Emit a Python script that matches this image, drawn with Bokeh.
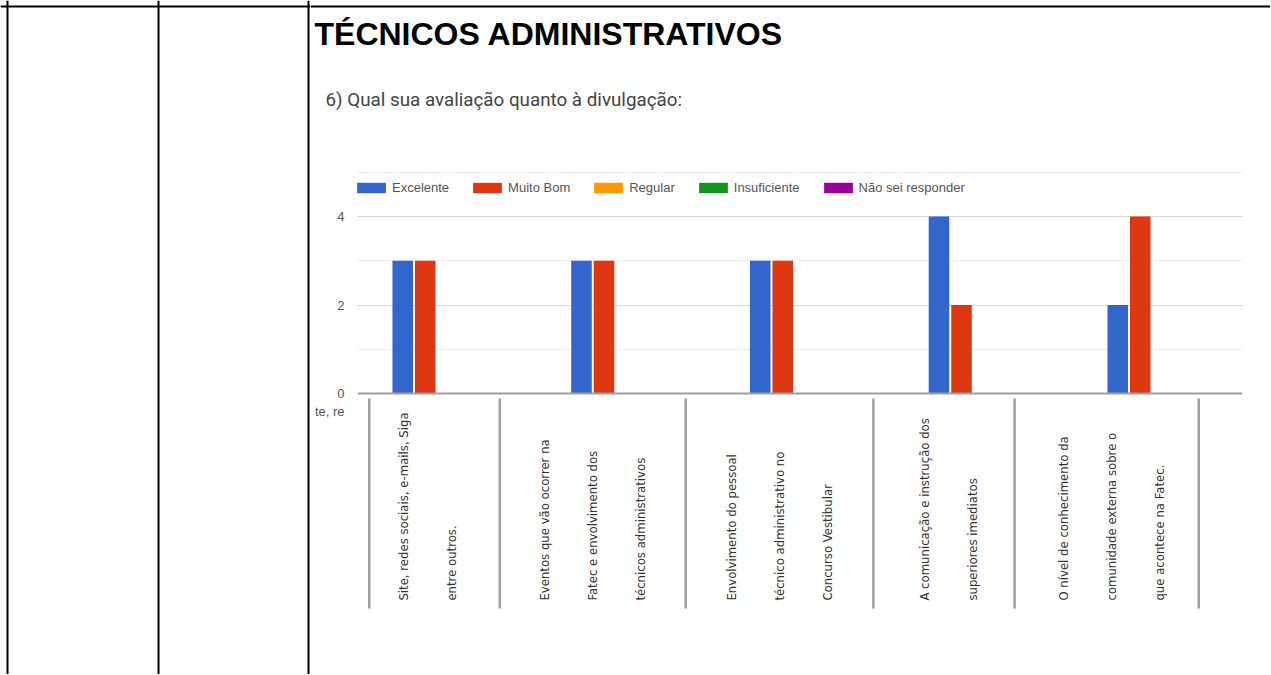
from math import pi
from bokeh.plotting import figure
from bokeh.layouts import row, column
from bokeh.models import (ColumnDataSource, Range1d, FixedTicker, Legend, LegendItem,
                          Label, Span)
from bokeh.transform import dodge
from bokeh.core.properties import value
from bokeh.embed import file_html
from bokeh.resources import INLINE

# ---------------- data ----------------
heading = "TÉCNICOS ADMINISTRATIVOS"
question = "6) Qual sua avaliação quanto à divulgação:"
clipped_label = "te, re"
categories = [
    "Site, redes sociais, e-mails, Siga\nentre outros.",
    "Eventos que vão ocorrer na\nFatec e envolvimento dos\ntécnicos administrativos",
    "Envolvimento do pessoal\ntécnico administrativo no\nConcurso Vestibular",
    "A comunicação e instrução dos\nsuperiores imediatos",
    "O nível de conhecimento da\ncomunidade externa sobre o\nque acontece na Fatec.",
]
series_names = ["Excelente", "Muito Bom", "Regular", "Insuficiente", "Não sei responder"]
excelente = [3, 3, 3, 4, 2]
muito_bom = [3, 3, 3, 2, 4]
regular = [0, 0, 0, 0, 0]
insuficiente = [0, 0, 0, 0, 0]
nao_sei = [0, 0, 0, 0, 0]
y_ticks = [0, 2, 4]
y_minor = [1, 3, 5]

# ---------------- layout / style ----------------
colors = ["#3366cc", "#dc3912", "#ff9900", "#109618", "#990099"]
offsets = [-0.063, 0.063, 0.0, 0.0, 0.0]
bar_w = 0.115
label_nudge = [14, 0, 8, -2, -17]                    # px nudges of rotated labels
separators = [-0.25, 0.48, 1.52, 2.57, 3.36, 4.39]   # label cell dividers
clipped_label_y = -0.41

TOTAL_W, TOTAL_H = 1270, 674
LEFT_W = 310
TOP_H = 168
RIGHT_W = TOTAL_W - LEFT_W
CHART_H = TOTAL_H - TOP_H


def bare(width, height, xr, yr):
    f = figure(width=width, height=height, output_backend="svg", toolbar_location=None,
               x_range=xr, y_range=yr, x_axis_location=None, y_axis_location=None,
               min_border=0, outline_line_color=None)
    f.grid.visible = False
    f.frame_align = False
    return f


# ---- left document-table cells ----
left = bare(LEFT_W, TOTAL_H, Range1d(0, LEFT_W), Range1d(TOTAL_H, 0))
for xloc in [7, 158, 308]:
    left.add_layout(Span(location=xloc, dimension="height", line_color="black", line_width=2))
left.add_layout(Span(location=6, dimension="width", line_color="black", line_width=2))

# ---- heading area ----
top = bare(RIGHT_W, TOP_H, Range1d(LEFT_W, TOTAL_W), Range1d(TOP_H, 0))
top.add_layout(Span(location=6, dimension="width", line_color="black", line_width=2))
top.add_layout(Label(x=314, y=33, text=heading, text_font="Liberation Sans",
                     text_font_style="bold", text_font_size="32px", text_color="black",
                     text_baseline="alphabetic"))
top.add_layout(Label(x=325, y=99, text=question, text_font="Roboto",
                     text_font_size="18.8px", text_color="#444444",
                     text_baseline="alphabetic"))

# ---- chart ----
p = figure(width=RIGHT_W, height=CHART_H, output_backend="svg", toolbar_location=None,
           x_range=Range1d(-0.316, 4.635), y_range=Range1d(-5.582, 5.085),
           min_border_left=47, min_border_right=28, min_border_top=0,
           min_border_bottom=34, outline_line_color=None)
p.frame_align = False

idx = list(range(len(categories)))
src = ColumnDataSource(dict(x=idx, excelente=excelente, muito_bom=muito_bom,
                            regular=regular, insuficiente=insuficiente, nao_sei=nao_sei))
fields = ["excelente", "muito_bom", "regular", "insuficiente", "nao_sei"]
renderers = []
for f, c, o in zip(fields, colors, offsets):
    r = p.vbar(x=dodge("x", o, range=p.x_range), top=f, width=bar_w, bottom=0,
               fill_color=c, line_color=None, source=src)
    renderers.append(r)

p.xaxis.fixed_location = 0
p.xaxis.ticker = FixedTicker(ticks=[])
p.xaxis.axis_line_color = "#9e9e9e"
p.xaxis.axis_line_width = 2
p.xaxis.major_tick_line_color = None
p.xaxis.minor_tick_line_color = None
p.xaxis.major_label_text_font_size = "0px"

p.yaxis.ticker = FixedTicker(ticks=[clipped_label_y] + y_ticks)
p.yaxis.major_label_overrides = {clipped_label_y: clipped_label}
p.yaxis.axis_line_color = None
p.yaxis.major_tick_line_color = None
p.yaxis.minor_tick_line_color = None
p.yaxis.major_tick_in = 0
p.yaxis.major_tick_out = 0
p.yaxis.minor_tick_in = 0
p.yaxis.minor_tick_out = 0
p.yaxis.major_label_standoff = 13
p.yaxis.major_label_text_font = "Liberation Sans"
p.yaxis.major_label_text_font_size = "13px"
p.yaxis.major_label_text_color = "#555555"

p.xgrid.grid_line_color = None
p.ygrid.ticker = FixedTicker(ticks=y_ticks, minor_ticks=y_minor)
p.ygrid.grid_line_color = "#d6d6d6"
p.ygrid.minor_grid_line_color = "#ececec"

legend = Legend(items=[LegendItem(label=n, renderers=[r]) for n, r in zip(series_names, renderers)],
                orientation="horizontal", location=(-4, 445), padding=0, margin=0,
                spacing=20, label_standoff=3, glyph_width=36, glyph_height=13,
                label_height=10, border_line_color=None, background_fill_alpha=0,
                label_text_font="Liberation Sans", label_text_font_size="13px",
                label_text_color="#555555")
p.add_layout(legend)

p.segment(x0=separators, x1=separators, y0=[-0.113] * len(separators),
          y1=[-4.86] * len(separators), line_color="#9e9e9e", line_width=2.5)
lab = ColumnDataSource(dict(x=idx, y=[-4.68] * len(idx), text=categories, xo=label_nudge))
p.text(x="x", y="y", text="text", x_offset="xo", angle=pi / 2, source=lab,
       text_align="left", text_baseline="middle",
       text_font=value("Liberation Sans Narrow, DejaVu Sans Condensed"),
       text_font_size="13px", text_color="#333333", text_line_height=3.2)

page = row(left, column(top, p, spacing=0), spacing=0)
open("out.html", "w").write(file_html(page, INLINE))
